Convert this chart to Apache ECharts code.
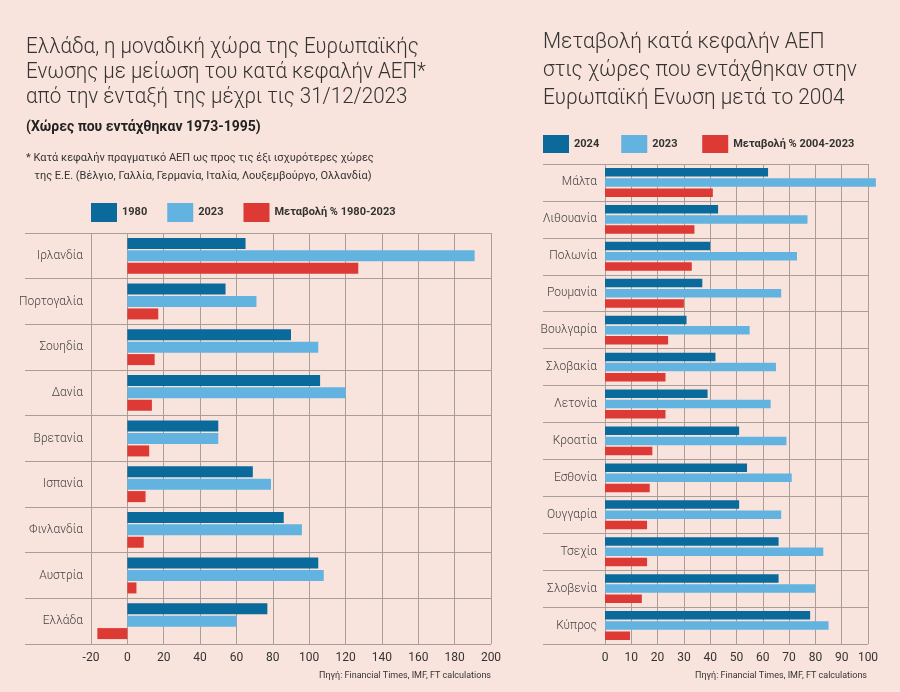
<!DOCTYPE html>
<html>
<head>
<meta charset="utf-8">
<script src="https://cdn.jsdelivr.net/npm/echarts@6/dist/echarts.min.js"></script>
<style>
html, body { margin: 0; padding: 0; background: #f8e4dc; }
#chart { width: 900px; height: 692px; }
</style>
</head>
<body>
<div id="chart"></div>
<script>
// left chart: countries that joined 1973-1995
var leftCountries = ['Ιρλανδία', 'Πορτογαλία', 'Σουηδία', 'Δανία', 'Βρετανία', 'Ισπανία', 'Φινλανδία', 'Αυστρία', 'Ελλάδα'];
var left1980 = [65, 54, 90, 106, 50, 69, 86, 105, 77];
var left2023 = [191, 71, 105, 120, 50, 79, 96, 108, 60];
var leftChange = [127, 17, 15, 13.5, 12, 10, 9, 5, -16.5];

// right chart: countries that joined after 2004
var rightCountries = ['Μάλτα', 'Λιθουανία', 'Πολωνία', 'Ρουμανία', 'Βουλγαρία', 'Σλοβακία', 'Λετονία', 'Κροατία', 'Εσθονία', 'Ουγγαρία', 'Τσεχία', 'Σλοβενία', 'Κύπρος'];
var right2024 = [62, 43, 40, 37, 31, 42, 39, 51, 54, 51, 66, 66, 78];
var right2023 = [103, 77, 73, 67, 55, 65, 63, 69, 71, 67, 83, 80, 85];
var rightChange = [41, 34, 33, 30, 24, 23, 23, 18, 17, 16, 16, 14, 9.5];

var DARK = '#0a6a9c';
var LIGHT = '#63b3e0';
var RED = '#dd3a35';
var LINE = '#a99e99';
var TXT = '#333';
var FONT = 'Roboto';

var chart = echarts.init(document.getElementById('chart'));

function sepAxis(data) {
	return {
		type: 'category',
		inverse: true,
		data: data,
		axisLine: { show: false },
		axisTick: { show: false },
		axisLabel: { show: false },
		splitLine: { show: true, lineStyle: { color: LINE, width: 1 } }
	};
}

function catAxis(data) {
	return {
		type: 'category',
		inverse: true,
		data: data,
		axisLine: { show: false },
		axisTick: { show: false },
		axisLabel: { margin: 8, color: '#444', fontFamily: FONT, fontWeight: 300, fontSize: 12 },
		splitLine: { show: false }
	};
}

function valAxis(min, max, interval) {
	return {
		type: 'value',
		min: min,
		max: max,
		interval: interval,
		axisLine: { show: false },
		axisTick: { show: false },
		axisLabel: { margin: 8, color: TXT, fontFamily: FONT, fontSize: 12 },
		splitLine: { show: true, lineStyle: { color: LINE, width: 1 } }
	};
}

function bar(name, data, color, idx, width, gap) {
	return {
		name: name,
		type: 'bar',
		xAxisIndex: idx,
		yAxisIndex: idx,
		data: data,
		barWidth: width,
		barGap: gap,
		clip: false,
		itemStyle: { color: color },
		emphasis: { disabled: true }
	};
}

var option = {
	backgroundColor: '#f8e4dc',
	animation: false,
	textStyle: { fontFamily: FONT },
	legend: [{
		left: 91,
		top: 203,
		padding: 0,
		itemWidth: 26,
		itemHeight: 19,
		itemGap: 20,
		icon: 'rect',
		selectedMode: false,
		textStyle: { color: TXT, fontSize: 11, fontWeight: 'bold', fontFamily: FONT },
		data: ['1980', '2023', 'Μεταβολή % 1980-2023']
	}, {
		left: 543,
		top: 135,
		padding: 0,
		itemWidth: 26,
		itemHeight: 18,
		itemGap: 22,
		icon: 'rect',
		selectedMode: false,
		textStyle: { color: TXT, fontSize: 11, fontWeight: 'bold', fontFamily: FONT },
		data: ['2024', '2023 ', 'Μεταβολή % 2004-2023']
	}],
	grid: [
		{ left: 25, width: 466, top: 233, height: 411 },
		{ left: 91, width: 400, top: 233, height: 411 },
		{ left: 543, width: 325, top: 164, height: 480 },
		{ left: 605, width: 263, top: 164, height: 480 }
	],
	xAxis: [
		{ gridIndex: 0, type: 'value', show: false },
		Object.assign({ gridIndex: 1 }, valAxis(-20, 200, 20)),
		{ gridIndex: 2, type: 'value', show: false },
		Object.assign({ gridIndex: 3 }, valAxis(0, 100, 10))
	],
	yAxis: [
		Object.assign({ gridIndex: 0 }, sepAxis(leftCountries)),
		Object.assign({ gridIndex: 1 }, catAxis(leftCountries)),
		Object.assign({ gridIndex: 2 }, sepAxis(rightCountries)),
		Object.assign({ gridIndex: 3 }, catAxis(rightCountries))
	],
	series: [
		bar('1980', left1980, DARK, 1, 11, '13%'),
		bar('2023', left2023, LIGHT, 1, 11, '13%'),
		bar('Μεταβολή % 1980-2023', leftChange, RED, 1, 11, '13%'),
		bar('2024', right2024, DARK, 3, 8.5, '20%'),
		bar('2023 ', right2023, LIGHT, 3, 8.5, '20%'),
		bar('Μεταβολή % 2004-2023', rightChange, RED, 3, 8.5, '20%')
	],
	graphic: [{
		type: 'text', x: 26, y: 35, scaleX: 0.935,
		style: {
			text: 'Ελλάδα, η μοναδική χώρα της Ευρωπαϊκής\nΕνωσης με μείωση του κατά κεφαλήν ΑΕΠ*\nαπό την ένταξή της μέχρι τις 31/12/2023',
			font: '300 22px Roboto', fill: TXT, lineHeight: 25
		}
	}, {
		type: 'text', left: 26, top: 120,
		style: { text: '(Χώρες που εντάχθηκαν 1973-1995)', font: 'bold 14px Roboto', fill: '#222' }
	}, {
		type: 'text', left: 26, top: 149,
		style: {
			text: '* Κατά κεφαλήν πραγματικό ΑΕΠ ως προς τις έξι ισχυρότερες χώρες\n   της Ε.Ε. (Βέλγιο, Γαλλία, Γερμανία, Ιταλία, Λουξεμβούργο, Ολλανδία)',
			font: '11px Roboto', fill: TXT, lineHeight: 18
		}
	}, {
		type: 'text', x: 543, y: 28, scaleX: 0.95,
		style: {
			text: 'Μεταβολή κατά κεφαλήν ΑΕΠ\nστις χώρες που εντάχθηκαν στην\nΕυρωπαϊκή Ενωση μετά το 2004',
			font: '300 22px Roboto', fill: TXT, lineHeight: 28
		}
	}, {
		type: 'text', right: 409, top: 671,
		style: { text: 'Πηγή: Financial Times, IMF, FT calculations', font: '9px Roboto', fill: TXT }
	}, {
		type: 'text', right: 33, top: 671,
		style: { text: 'Πηγή: Financial Times, IMF, FT calculations', font: '9px Roboto', fill: TXT }
	}]
};

chart.setOption(option);
</script>
</body>
</html>
